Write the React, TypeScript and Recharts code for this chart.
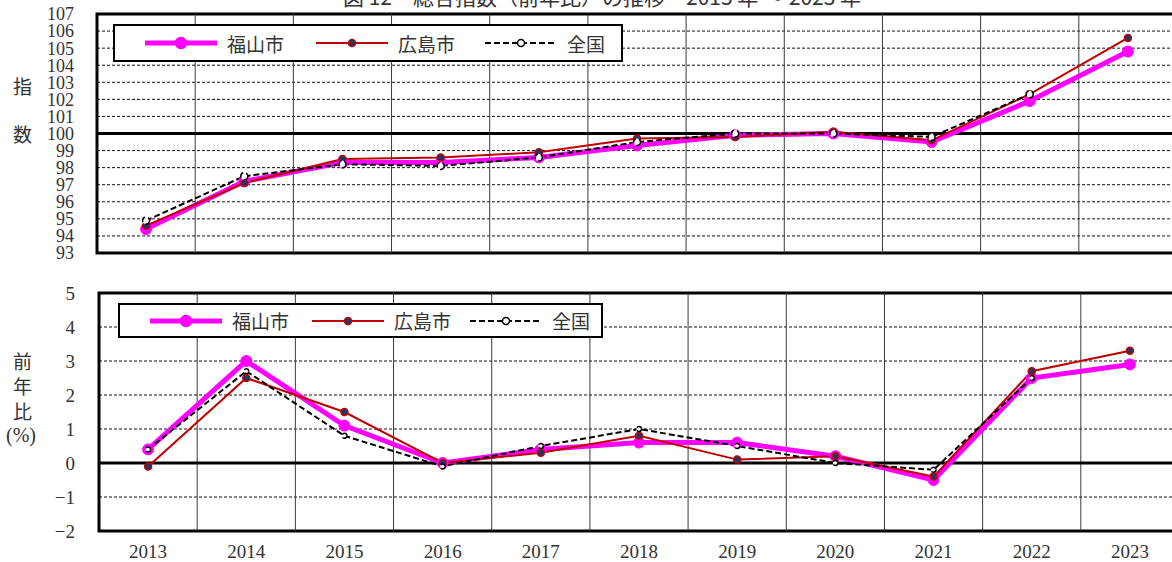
import React from "react";
import {
  LineChart,
  Line,
  XAxis,
  YAxis,
  CartesianGrid,
  ReferenceLine,
  ReferenceArea,
} from "recharts";

const years = [2013, 2014, 2015, 2016, 2017, 2018, 2019, 2020, 2021, 2022, 2023];

// 総合指数 (2020 = 100)
const fukuyamaIndex = [94.4, 97.2, 98.3, 98.3, 98.6, 99.3, 99.9, 100.0, 99.5, 101.9, 104.8];
const hiroshimaIndex = [94.6, 97.1, 98.5, 98.6, 98.9, 99.7, 99.8, 100.1, 99.6, 102.3, 105.6];
const zenkokuIndex = [94.9, 97.5, 98.2, 98.1, 98.6, 99.5, 100.0, 100.0, 99.8, 102.3, null];

// 前年比 (%)
const fukuyamaRate = [0.4, 3.0, 1.1, 0.0, 0.4, 0.6, 0.6, 0.2, -0.5, 2.5, 2.9];
const hiroshimaRate = [-0.1, 2.5, 1.5, 0.0, 0.3, 0.8, 0.1, 0.2, -0.4, 2.7, 3.3];
const zenkokuRate = [0.4, 2.7, 0.8, -0.1, 0.5, 1.0, 0.5, 0.0, -0.2, 2.5, null];

const indexTicks = [93, 94, 95, 96, 97, 98, 99, 100, 101, 102, 103, 104, 105, 106, 107];
const rateTicks = [-2, -1, 0, 1, 2, 3, 4, 5];

const seriesNames = ["福山市", "広島市", "全国"];

const C = {
  fukuyama: "#ff00ff",
  hiroshima: "#c00000",
  hiroshimaDot: "#1f3864",
  zenkoku: "#000000",
  grid: "#111111",
  vgrid: "#3a3a3a",
  text: "#333333",
};

const NUM_FONT = "'Liberation Serif', 'DejaVu Serif', serif";
const JP_FONT = "'Noto Sans CJK JP', 'Noto Sans', sans-serif";

const indexData = years.map((y, i) => ({
  year: y,
  fukuyama: fukuyamaIndex[i],
  hiroshima: hiroshimaIndex[i],
  zenkoku: zenkokuIndex[i],
}));

const rateData = years.map((y, i) => ({
  year: y,
  fukuyama: fukuyamaRate[i],
  hiroshima: hiroshimaRate[i],
  zenkoku: zenkokuRate[i],
}));

const bounds = years.slice(0, -1).map((y) => y + 0.5);

const fmtMinus = (v: number) => (v < 0 ? `−${-v}` : `${v}`);

function LegendBox({ left, top, width, height, offsets }: any) {
  const samples = [
    { color: C.fukuyama, w: 5, dash: undefined, r: 5.5, fill: C.fukuyama, stroke: C.fukuyama },
    { color: C.hiroshima, w: 2, dash: undefined, r: 3.5, fill: C.hiroshimaDot, stroke: C.hiroshima },
    { color: C.zenkoku, w: 2, dash: "6 3", r: 3.5, fill: "#fff", stroke: C.zenkoku },
  ];
  return (
    <div
      style={{
        position: "absolute",
        left,
        top,
        width,
        height,
        border: "2px solid #000",
        background: "#fff",
        boxSizing: "border-box",
      }}
    >
      {samples.map((s, i) => (
        <div key={i} style={{ position: "absolute", left: offsets[i], top: 0, height: "100%", display: "flex", alignItems: "center" }}>
          <svg width={76} height={16}>
            <line x1={2} y1={8} x2={74} y2={8} stroke={s.color} strokeWidth={s.w} strokeDasharray={s.dash} />
            <circle cx={38} cy={8} r={s.r} fill={s.fill} stroke={s.stroke} strokeWidth={1.5} />
          </svg>
          <span style={{ marginLeft: 8, fontFamily: JP_FONT, fontSize: 19, color: C.text }}>{seriesNames[i]}</span>
        </div>
      ))}
    </div>
  );
}

export default function App() {
  const lines = (big: boolean) => [
    <Line
      key="f"
      dataKey="fukuyama"
      name={seriesNames[0]}
      stroke={C.fukuyama}
      strokeWidth={5}
      dot={{ r: 5.5, fill: C.fukuyama, stroke: C.fukuyama, strokeWidth: 1 }}
      isAnimationActive={false}
    />,
    <Line
      key="h"
      dataKey="hiroshima"
      name={seriesNames[1]}
      stroke={C.hiroshima}
      strokeWidth={2}
      dot={{ r: 3.5, fill: C.hiroshimaDot, stroke: C.hiroshima, strokeWidth: 1.5 }}
      isAnimationActive={false}
    />,
    <Line
      key="z"
      dataKey="zenkoku"
      name={seriesNames[2]}
      stroke={C.zenkoku}
      strokeWidth={2}
      strokeDasharray="6 3"
      dot={{ r: big ? 3.5 : 2.5, fill: "#fff", stroke: C.zenkoku, strokeWidth: 1.5 }}
      isAnimationActive={false}
    />,
  ];

  const numTick = { fill: C.text, fontSize: 19, fontFamily: NUM_FONT };

  return (
    <div
      style={{
        position: "absolute",
        left: 0,
        top: 0,
        width: 1172,
        height: 562,
        overflow: "hidden",
        background: "#fff",
      }}
    >
      <div
        style={{
          position: "absolute",
          left: 343,
          top: -16,
          fontFamily: JP_FONT,
          fontSize: 21,
          lineHeight: "24px",
          color: C.text,
          whiteSpace: "pre",
        }}
      >
        図 12　総合指数（前年比）の推移　2013 年 ～ 2023 年
      </div>

      {/* 指数 */}
      <div style={{ position: "absolute", left: 0, top: 0 }}>
        <LineChart width={1180} height={262} data={indexData} margin={{ top: 14, right: 3, bottom: 9, left: 0 }}>
          <CartesianGrid vertical={false} stroke={C.grid} strokeDasharray="3 2" />
          <XAxis dataKey="year" type="number" domain={[2012.5, 2023.5]} ticks={years} hide />
          <YAxis
            type="number"
            domain={[93, 107]}
            ticks={indexTicks}
            interval={0}
            width={97}
            axisLine={false}
            tickLine={false}
            tickSize={16}
            tickMargin={7}
            tick={{ ...numTick, fontSize: 18 }}
          />
          {bounds.map((b) => (
            <ReferenceLine key={b} x={b} stroke={C.vgrid} strokeWidth={1} />
          ))}
          <ReferenceLine y={100} stroke="#000" strokeWidth={3} />
          {lines(true)}
          <ReferenceArea x1={2012.5} x2={2023.5} y1={93} y2={107} fill="none" stroke="#000" strokeWidth={3} />
        </LineChart>
        <LegendBox left={113} top={24} width={510} height={38} offsets={[28, 199, 368]} />
      </div>

      {/* 前年比 */}
      <div style={{ position: "absolute", left: 0, top: 280 }}>
        <LineChart width={1182} height={282} data={rateData} margin={{ top: 13, right: 3, bottom: 0, left: 0 }}>
          <CartesianGrid vertical={false} stroke={C.grid} strokeDasharray="3 2" />
          <XAxis
            dataKey="year"
            type="number"
            domain={[2012.5, 2023.5]}
            ticks={years}
            interval={0}
            height={31}
            axisLine={false}
            tickLine={false}
            tickMargin={8}
            tick={numTick}
          />
          <YAxis
            type="number"
            domain={[-2, 5]}
            ticks={rateTicks}
            interval={0}
            width={99}
            axisLine={false}
            tickLine={false}
            tickSize={16}
            tickMargin={8}
            tickFormatter={fmtMinus}
            tick={numTick}
          />
          {bounds.map((b) => (
            <ReferenceLine key={b} x={b} stroke={C.vgrid} strokeWidth={1} />
          ))}
          <ReferenceLine y={0} stroke="#000" strokeWidth={3} />
          {lines(false)}
          <ReferenceArea x1={2012.5} x2={2023.5} y1={-2} y2={5} fill="none" stroke="#000" strokeWidth={3} />
        </LineChart>
        <LegendBox left={118} top={23} width={485} height={35} offsets={[28, 190, 348]} />
      </div>

      <div style={{ position: "absolute", left: 13, top: 74, fontFamily: JP_FONT, fontSize: 19, color: C.text, lineHeight: "24px" }}>
        指
      </div>
      <div style={{ position: "absolute", left: 13, top: 122, fontFamily: JP_FONT, fontSize: 19, color: C.text, lineHeight: "24px" }}>
        数
      </div>
      <div
        style={{
          position: "absolute",
          left: 13,
          top: 348,
          fontFamily: JP_FONT,
          fontSize: 19,
          color: C.text,
          lineHeight: "25px",
        }}
      >
        前<br />年<br />比
      </div>
      <div style={{ position: "absolute", left: 6, top: 423, fontFamily: NUM_FONT, fontSize: 20, color: C.text, lineHeight: "24px" }}>
        (%)
      </div>
    </div>
  );
}
